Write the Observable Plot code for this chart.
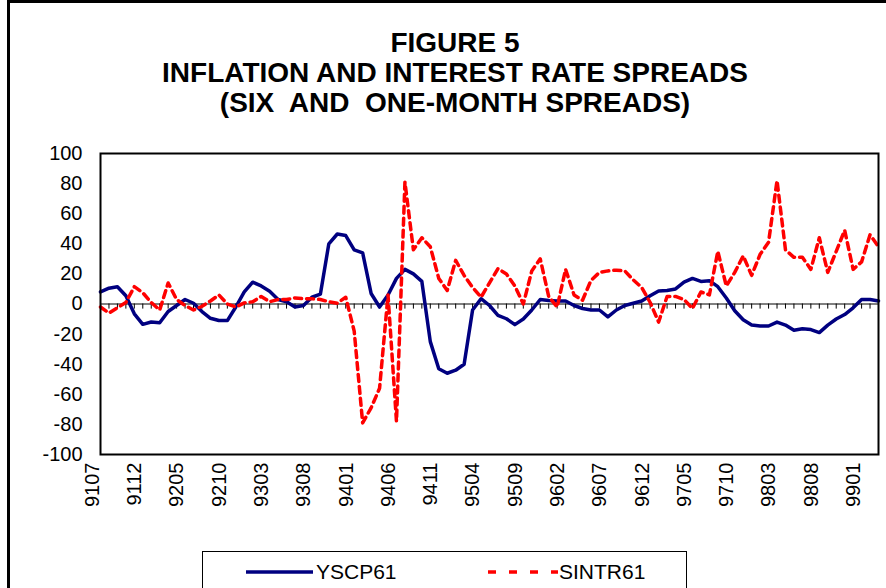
<!DOCTYPE html>
<html>
<head>
<meta charset="utf-8">
<script src="https://cdn.jsdelivr.net/npm/d3@7"></script>
<script src="https://cdn.jsdelivr.net/npm/@observablehq/plot@0.6"></script>
<style>
  html, body { margin: 0; padding: 0; background: #fff; }
  #wrap { position: relative; width: 886px; height: 588px; overflow: hidden; background: #fff;
          font-family: "Liberation Sans", Arial, sans-serif; color: #000; }
  #outer { position: absolute; left: 7px; top: 0px; width: 920px; height: 620px; border: 3px solid #000; box-sizing: border-box; }
  #title { position: absolute; left: 0; top: 28px; width: 910px; text-align: center; font-weight: bold;
           font-size: 28px; line-height: 30px; }
  #chart { position: absolute; left: 0; top: 130px; }
  #legend { position: absolute; left: 202px; top: 551px; width: 485px; height: 60px; border: 1px solid #000; box-sizing: border-box; background: #fff; }
  .lg { position: absolute; top: 8px; font-size: 21px; line-height: 24px; }
</style>
</head>
<body>
<div id="wrap">
  <div id="outer"></div>
  <div id="title">FIGURE 5<br>INFLATION AND INTEREST RATE SPREADS<br>(SIX&nbsp; AND&nbsp; ONE-MONTH SPREADS)</div>
  <div id="chart"></div>
  <div id="legend">
    <svg width="485" height="40" style="position:absolute;left:0;top:0">
      <line x1="43" x2="110" y1="20" y2="20" stroke="#000080" stroke-width="3.5"/>
      <line x1="285" x2="355" y1="20" y2="20" stroke="#ff0000" stroke-width="3.5" stroke-dasharray="8,13"/>
    </svg>
    <div class="lg" style="left:113px">YSCP61</div>
    <div class="lg" style="left:356px">SINTR61</div>
  </div>
</div>
<script>
const months = ["9107","9108","9109","9110","9111","9112",
  "9201","9202","9203","9204","9205","9206","9207","9208","9209","9210","9211","9212",
  "9301","9302","9303","9304","9305","9306","9307","9308","9309","9310","9311","9312",
  "9401","9402","9403","9404","9405","9406","9407","9408","9409","9410","9411","9412",
  "9501","9502","9503","9504","9505","9506","9507","9508","9509","9510","9511","9512",
  "9601","9602","9603","9604","9605","9606","9607","9608","9609","9610","9611","9612",
  "9701","9702","9703","9704","9705","9706","9707","9708","9709","9710","9711","9712",
  "9801","9802","9803","9804","9805","9806","9807","9808","9809","9810","9811","9812",
  "9901","9902","9903"];

const tickLabels = ["9107","9112","9205","9210","9303","9308","9401","9406","9411","9504",
  "9509","9602","9607","9612","9705","9710","9803","9808","9901"];

const yTicks = [-100, -80, -60, -40, -20, 0, 20, 40, 60, 80, 100];

// YSCP61 (six-month inflation spread)
const yscp61 = [8, 10.5, 11.5, 5.5, -6.5, -13.5, -12, -12.5, -5, -1,
  3, 0.5, -5, -9.5, -11, -11, -2, 8, 14.5, 12,
  8.5, 3, 1.5, -2, -1, 4.5, 6.5, 40, 46.5, 45.5,
  36, 34, 7, -2, 6, 17, 23, 20, 15, -25,
  -43, -46, -44, -40, -4, 3.5, -1, -7.5, -9.8, -13.7,
  -10, -4, 3, 2.4, 2, 2, -1, -3, -4, -4,
  -8.6, -4, -1, 0.5, 2, 5.5, 8.7, 9, 10, 14.5,
  17, 15, 15.5, 11.5, 4, -4.5, -10.5, -14, -14.6, -14.6,
  -12, -14, -17.5, -16.5, -17, -19, -14, -10, -7, -2.5,
  3, 3, 2];

// SINTR61 (six- and one-month interest rate spread)
const sintr61 = [-2, -6, -2.5, 1, 11.5, 7.5, 1, -4, 14, 3,
  -1, -4, -1.5, 2, 6, 0, -2, 0.7, 1.5, 5,
  1.5, 3, 3, 4, 3.5, 3.5, 3, 1.5, 0.5, 4.5,
  -18, -79, -69, -56, 6, -78, 81, 36, 44, 38,
  17, 9, 29, 19, 11, 4.5, 14, 23.5, 20, 12,
  0, 22, 30, 5, -2, 23, 6, 2.5, 15.7, 21,
  22, 22.5, 22, 16, 11, 1, -12, 5, 5, 3,
  -3, 8, 6, 35, 12, 21, 32, 19, 33, 41,
  82, 36, 31, 31, 23, 44, 21, 35, 49, 23,
  28, 46, 38];

const data = months.map((m, i) => ({i, month: m, yscp: yscp61[i], sintr: sintr61[i]}));
const idx = months.map((m, i) => i);
const tickIdx = tickLabels.map(t => months.indexOf(t));

const chart = Plot.plot({
  width: 886,
  height: 390,
  marginLeft: 100,
  marginRight: 8,
  marginTop: 23,
  marginBottom: 66,
  style: {fontFamily: "'Liberation Sans', Arial, sans-serif", fontSize: "20px", color: "#000", background: "transparent", overflow: "visible"},
  x: {domain: [0, months.length - 1]},
  y: {domain: [-100, 100]},
  marks: [
    Plot.ruleY([0], {stroke: "#808080", strokeWidth: 2}),
    Plot.ruleX(idx, {x: d => d, y1: 0, y2: -3.4, stroke: "#000", strokeWidth: 1}),
    Plot.axisY({ticks: yTicks, tickSize: 0, tickPadding: 18, fontSize: 20, label: null, tickFormat: d => String(d)}),
    Plot.axisX({ticks: tickIdx, tickFormat: i => months[i], tickRotate: -90, tickSize: 0, tickPadding: 8, fontSize: 20, label: null, dx: -8}),
    Plot.line(data, {x: "i", y: "yscp", stroke: "#000080", strokeWidth: 3.5}),
    Plot.line(data, {x: "i", y: "sintr", stroke: "#ff0000", strokeWidth: 3.5, strokeDasharray: "7,5"}),
    Plot.frame({stroke: "#000", strokeWidth: 2})
  ]
});
document.getElementById("chart").appendChild(chart);
</script>
</body>
</html>
